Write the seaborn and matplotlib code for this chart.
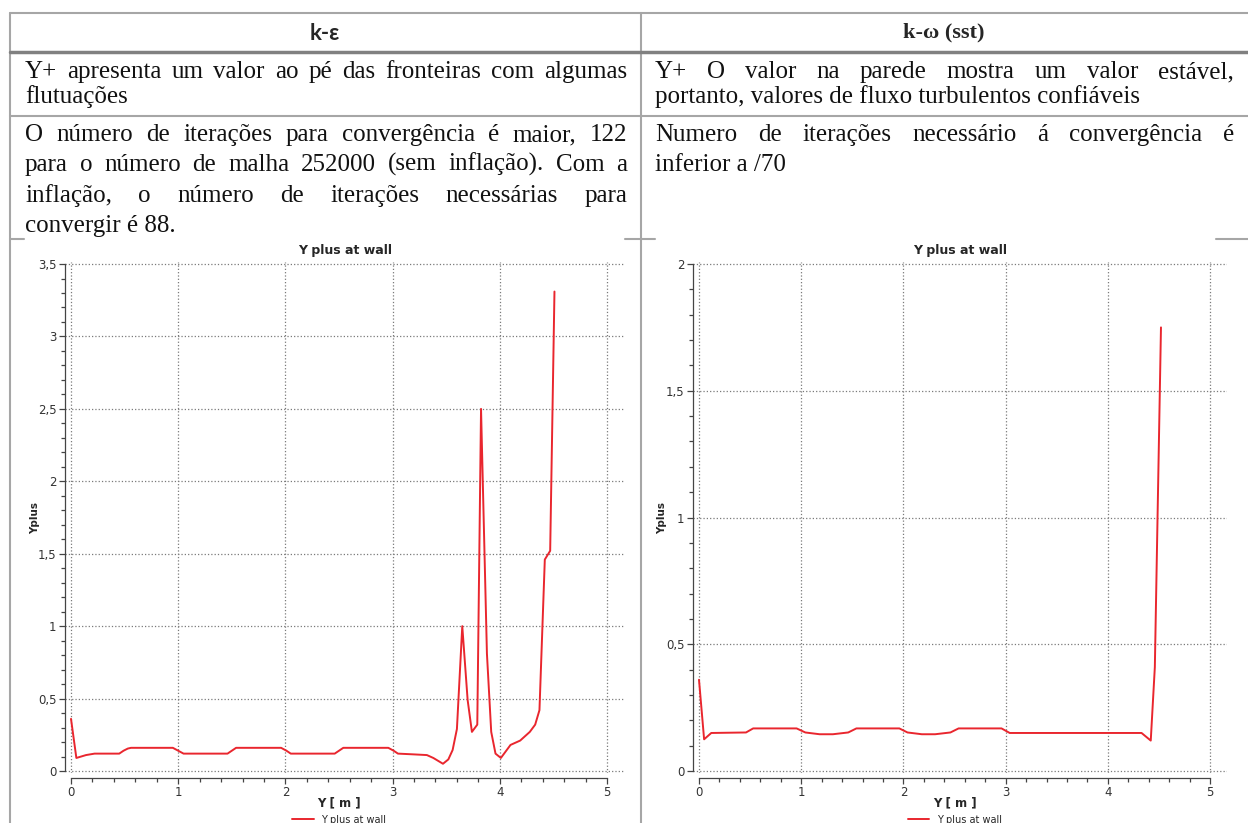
import matplotlib
matplotlib.use("Agg")
import pandas as pd
import seaborn as sns
import matplotlib.pyplot as plt
from matplotlib.ticker import MultipleLocator, FuncFormatter

x_ke = [0.00, 0.05, 0.14, 0.22, 0.45, 0.49, 0.53, 0.56, 0.95, 1.00, 1.05, 1.46, 1.50, 1.54,
        1.96, 2.01, 2.05, 2.46, 2.50, 2.54, 2.96, 3.01, 3.05, 3.19, 3.32, 3.38, 3.47, 3.52,
        3.56, 3.60, 3.65, 3.70, 3.74, 3.79, 3.825, 3.88, 3.92, 3.96, 4.01, 4.10, 4.19, 4.28,
        4.33, 4.37, 4.42, 4.47, 4.51]
y_ke = [0.36, 0.09, 0.11, 0.12, 0.12, 0.14, 0.155, 0.16, 0.16, 0.14, 0.12, 0.12, 0.14, 0.16,
        0.16, 0.14, 0.12, 0.12, 0.14, 0.16, 0.16, 0.14, 0.12, 0.115, 0.11, 0.09, 0.05, 0.08,
        0.145, 0.29, 1.00, 0.49, 0.27, 0.32, 2.50, 0.81, 0.27, 0.12, 0.09, 0.18, 0.21, 0.27,
        0.32, 0.42, 1.46, 1.52, 3.31]

x_kw = [0.00, 0.05, 0.12, 0.46, 0.53, 0.955, 1.04, 1.18, 1.31, 1.46, 1.54, 1.96, 2.04,
        2.18, 2.31, 2.46, 2.54, 2.96, 3.04, 4.33, 4.42, 4.46, 4.52]
y_kw = [0.36, 0.125, 0.15, 0.152, 0.168, 0.168, 0.152, 0.145, 0.145, 0.152, 0.168, 0.168,
        0.152, 0.145, 0.145, 0.152, 0.168, 0.168, 0.15, 0.15, 0.12, 0.41, 1.75]

headers = ["k-ε", "k-ω (sst)"]
row2_left = ["Y+ apresenta um valor ao pé das fronteiras com algumas", "flutuações"]
row3_left = ["O número de iterações para convergência é maior, 122",
             "para o número de malha 252000 (sem inflação). Com a",
             "inflação, o número de iterações necessárias para",
             "convergir é 88."]
row2_right = ["Y+ O valor na parede mostra um valor estável,",
              "portanto, valores de fluxo turbulentos confiáveis"]
row3_right = ["Numero de iterações necessário á convergência é", "inferior a /70"]

sns.set_style("white")
plt.rcParams["font.family"] = ["DejaVu Sans"]

W, H = 1248, 823
fig = plt.figure(figsize=(W / 100, H / 100), dpi=100)
bg = fig.add_axes([0, 0, 1, 1])
bg.set_xlim(0, W)
bg.set_ylim(H, 0)
bg.axis("off")

# table borders
grey = "#a6a6a6"
bg.plot([10, W], [13, 13], color=grey, lw=1.5)
bg.plot([10, 10], [13, H], color=grey, lw=1.5)
bg.plot([640.5, 640.5], [13, H], color=grey, lw=1.5)
bg.plot([10, W], [51.5, 51.5], color="#808080", lw=2.5)
bg.plot([10, W], [116, 116], color=grey, lw=1.5)
for a, b in [(10, 24), (625, 655), (1216, W)]:
    bg.plot([a, b], [238.5, 238.5], color=grey, lw=1.5)

bg.text(325, 33, headers[0], ha="center", va="center", fontsize=16, fontweight="bold",
        family=["Lato", "Open Sans", "DejaVu Sans"])
bg.text(944, 32, headers[1], ha="center", va="center", fontsize=16, fontweight="bold",
        family=["Liberation Serif", "DejaVu Serif"])

renderer = fig.canvas.get_renderer()
body = dict(fontsize=18, family=["Liberation Serif", "DejaVu Serif"], va="baseline", color="#111111")


def put_line(text, x0, x1, y, justify):
    if not justify:
        bg.text(x0, y, text, ha="left", **body)
        return
    words = text.split(" ")
    arts = [bg.text(0, y, w, ha="left", **body) for w in words]
    widths = [t.get_window_extent(renderer).width for t in arts]
    gap = (x1 - x0 - sum(widths)) / (len(words) - 1)
    x = x0
    for t, w in zip(arts, widths):
        t.set_x(x)
        x += w + gap


def put_par(lines, x0, x1, ys):
    for i, (ln, y) in enumerate(zip(lines, ys)):
        put_line(ln, x0, x1, y, justify=i < len(lines) - 1)


put_par(row2_left, 25, 627, [78, 103])
put_par(row3_left, 25, 627, [141, 171, 202, 232])
put_par(row2_right, 655, 1234, [78, 103])
put_par(row3_right, 655, 1234, [141, 171])


def px_axes(l, t, r, b):
    return fig.add_axes([l / W, 1 - b / H, (r - l) / W, (b - t) / H])


red = "#e9262e"
comma = FuncFormatter(lambda v, p: f"{v:g}".replace(".", ","))


def yplus_panel(box, xs, ys, xlim, ylim, ytop, lab_x):
    ax = px_axes(*box)
    df = pd.DataFrame({"Y": xs, "Yplus": ys})
    sns.lineplot(data=df, x="Y", y="Yplus", ax=ax, color=red, lw=1.4, sort=False,
                 estimator=None, label="Y plus at wall")
    ax.set_xlim(*xlim)
    ax.set_ylim(*ylim)
    ax.xaxis.set_major_locator(MultipleLocator(1))
    ax.xaxis.set_minor_locator(MultipleLocator(0.2))
    ax.yaxis.set_major_locator(MultipleLocator(0.5))
    ax.yaxis.set_minor_locator(MultipleLocator(0.1))
    ax.xaxis.set_major_formatter(comma)
    ax.yaxis.set_major_formatter(comma)
    ax.grid(True, which="major", ls=":", color="#7a7a7a", lw=0.9)
    for s in ["top", "right"]:
        ax.spines[s].set_visible(False)
    ax.spines["left"].set_bounds(0, ytop)
    ax.spines["bottom"].set_bounds(0, 5)
    ax.spines["bottom"].set_position(("outward", 3.6))
    for s in ["left", "bottom"]:
        ax.spines[s].set_color("#444444")
        ax.spines[s].set_linewidth(0.9)
    ax.tick_params(which="both", direction="out", bottom=True, left=True, color="#444444",
                   width=0.9, labelsize=8.5, labelcolor="#333333", pad=1.5)
    ax.tick_params(which="major", length=4.5)
    ax.tick_params(which="minor", length=3)
    ax.set_title("Y plus at wall", fontsize=9, fontweight="bold", pad=6)
    ax.set_xlabel("Y [ m ]", fontsize=8.5, fontweight="bold")
    ax.set_ylabel("Yplus", fontsize=7.5, fontweight="bold")
    ax.xaxis.set_label_coords(0.49, -0.045)
    ax.yaxis.set_label_coords(lab_x, 0.5)
    ax.legend(loc="upper center", bbox_to_anchor=(0.49, -0.072), frameon=False,
              fontsize=7, handlelength=2.2, borderpad=0)
    return ax


yplus_panel((65, 262, 625, 773), x_ke, y_ke, (-0.056, 5.168), (-0.0138, 3.514), 3.5, -0.045)
yplus_panel((693, 262, 1227, 773), x_kw, y_kw, (-0.0587, 5.166), (-0.0079, 2.008), 2.0, -0.048)

fig.savefig("out.png", dpi=100)
